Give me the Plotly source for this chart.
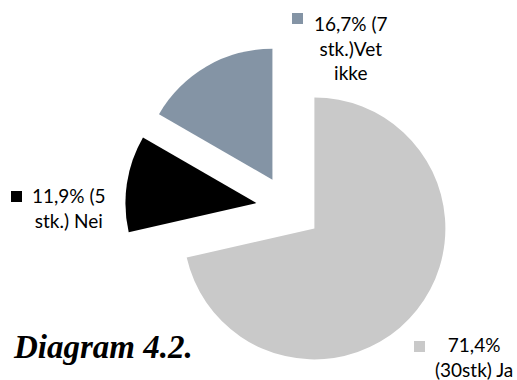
import plotly.graph_objects as go

# Svarfordeling
labels = ["Ja", "Nei", "Vet ikke"]
counts = [30, 5, 7]
label_texts = ["71,4%<br>(30stk) Ja", "11,9% (5<br>stk.) Nei", "16,7% (7<br>stk.)Vet<br>ikke"]
colors = ["#C9C9C9", "#000000", "#8494A5"]

W, H = 517, 380

fig = go.Figure()
fig.add_trace(go.Pie(
    labels=labels,
    values=counts,
    sort=False,
    direction="clockwise",
    rotation=0,
    pull=[0.25, 0.25, 0.25],
    marker=dict(colors=colors, line=dict(width=0)),
    textinfo="none",
    hoverinfo="label+percent",
    showlegend=False,
    domain=dict(x=[0.2419, 0.8753], y=[0.0217, 0.8836]),
))

# Dataetiketter med fargeforklaring (firkant + tekst)
label_pos = {
    # label: (text center x, text middle y, square x0, square y0) in pixels
    "Ja": (474, 357, 414, 341),
    "Nei": (69, 208, 11, 191),
    "Vet ikke": (351, 48, 292, 13),
}
sq = 11
for lab, txt, col in zip(labels, label_texts, colors):
    tx, ty, sx, sy = label_pos[lab]
    fig.add_annotation(
        x=tx / W, y=1 - ty / H, xref="paper", yref="paper",
        text=txt, showarrow=False, xanchor="center", yanchor="middle",
        align="center",
        font=dict(family="Lato", size=19, color="#000000"),
    )
    fig.add_shape(
        type="rect", xref="paper", yref="paper",
        x0=sx / W, x1=(sx + sq) / W, y0=1 - (sy + sq) / H, y1=1 - sy / H,
        fillcolor=col, line=dict(width=0),
    )

# Figurtekst
fig.add_annotation(
    x=11 / W, y=1 - 347 / H, xref="paper", yref="paper",
    text="<b><i>Diagram 4.2.</i></b>", showarrow=False,
    xanchor="left", yanchor="middle",
    font=dict(family="Liberation Serif", size=33, color="#000000"),
)

fig.update_layout(
    width=W, height=H,
    margin=dict(l=0, r=0, t=0, b=0),
    paper_bgcolor="#FFFFFF",
    plot_bgcolor="#FFFFFF",
)

fig.write_html("out.html")
